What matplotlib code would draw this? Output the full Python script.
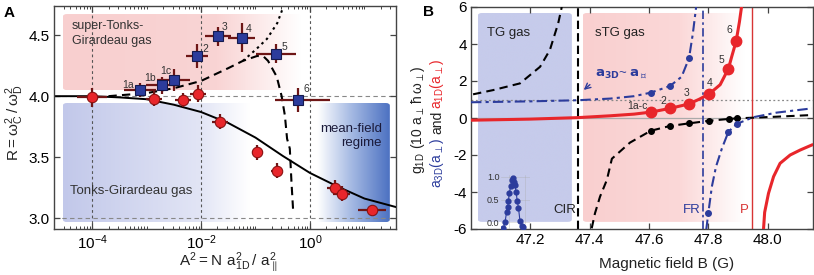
import numpy as np
import matplotlib
matplotlib.use('Agg')
import matplotlib.pyplot as plt
from matplotlib.colors import LinearSegmentedColormap
from matplotlib.patches import FancyBboxPatch
from matplotlib.ticker import FixedLocator, LogLocator, NullFormatter, FixedFormatter

plt.rcParams['font.family'] = ['Liberation Sans', 'DejaVu Sans']
plt.rcParams['mathtext.default'] = 'regular'
plt.rcParams['mathtext.fontset'] = 'dejavusans'
plt.rcParams['axes.unicode_minus'] = False

# ---------------- Panel A data ----------------
tg_logA2 = [-4.0, -2.86, -2.33, -2.05, -1.65, -0.97, -0.61, 0.46, 0.58, 1.14]
tg_R = [3.99, 3.98, 3.97, 4.02, 3.79, 3.54, 3.39, 3.25, 3.20, 3.07]
tg_xerr_dec = [0.27, 0.15, 0.15, 0.15, 0.15, 0.10, 0.10, 0.15, 0.15, 0.25]
tg_Rerr = [0.08, 0.06, 0.06, 0.07, 0.06, 0.06, 0.06, 0.06, 0.06, 0.04]

stg_labels = ['1a', '1b', '1c', '2', '3', '4', '5', '6']
stg_logA2 = [-3.12, -2.71, -2.50, -2.07, -1.69, -1.25, -0.62, -0.22]
stg_R = [4.05, 4.09, 4.13, 4.33, 4.49, 4.48, 4.35, 3.97]
stg_xerr_lo = [0.29, 0.30, 0.30, 0.20, 0.24, 0.25, 0.37, 0.42]
stg_xerr_hi = [0.29, 0.30, 0.30, 0.20, 0.24, 0.25, 0.37, 0.59]
stg_Rerr = [0.06, 0.07, 0.09, 0.10, 0.08, 0.12, 0.08, 0.10]

th_tg_log = [-4.7, -4.0, -3.5, -3.0, -2.5, -2.0, -1.5, -1.0, -0.5, 0.0, 0.5, 1.0, 1.58]
th_tg_R = [4.00, 4.00, 3.99, 3.975, 3.93, 3.87, 3.78, 3.66, 3.51, 3.37, 3.26, 3.16, 3.09]

th_stg_log = [-3.7, -3.0, -2.5, -2.0, -1.5, -1.23, -0.97, -0.85, -0.77, -0.61, -0.52,
              -0.46, -0.42, -0.37, -0.34, -0.31]
th_stg_R = [4.00, 4.025, 4.065, 4.125, 4.23, 4.29, 4.33, 4.325, 4.29, 4.16, 4.00,
            3.84, 3.65, 3.57, 3.30, 3.07]

th_dot_log = [-1.23, -1.0, -0.79, -0.6, -0.5]
th_dot_R = [4.29, 4.38, 4.47, 4.60, 4.72]

a_xticks = [1e-4, 1e-2, 1e0]
a_xticklabels = ['$10^{-4}$', '$10^{-2}$', '$10^{0}$']
a_yticks = [3.0, 3.5, 4.0, 4.5]

# ---------------- Panel B data ----------------
a1d_B1 = [47.0, 47.2, 47.36, 47.47, 47.55, 47.607, 47.671, 47.735, 47.77, 47.803,
          47.84, 47.868, 47.879, 47.894, 47.905, 47.912]
a1d_v1 = [-0.12, -0.06, 0.02, 0.12, 0.21, 0.32, 0.52, 0.76, 1.02, 1.30,
          1.80, 2.67, 3.32, 4.16, 5.2, 6.0]
a1d_B2 = [47.986, 47.99, 48.003, 48.02, 48.042, 48.076, 48.11, 48.149]
a1d_v2 = [-6.05, -5.1, -4.07, -3.17, -2.45, -2.0, -1.73, -1.46]

meas_B = [47.607, 47.671, 47.735, 47.803, 47.868, 47.894]
meas_a1d = [0.32, 0.52, 0.76, 1.30, 2.67, 4.16]
meas_labels = ['1a-c', '2', '3', '4', '5', '6']
meas_B_g = [47.606, 47.671, 47.735, 47.803, 47.87, 47.896]
meas_g1d = [-0.69, -0.43, -0.29, -0.15, -0.05, -0.02]

g1d_B1 = [47.007, 47.075, 47.165, 47.233, 47.266, 47.294, 47.306]
g1d_v1 = [1.28, 1.51, 1.87, 2.77, 3.68, 5.12, 6.0]
g1d_B2 = [47.407, 47.418, 47.435, 47.458, 47.475, 47.536, 47.606, 47.671, 47.735,
          47.803, 47.87, 47.896, 48.03, 48.149]
g1d_v2 = [-5.96, -5.15, -4.25, -3.35, -2.2, -1.33, -0.69, -0.43, -0.29,
          -0.15, -0.05, -0.02, 0.07, 0.16]

a3d_B1 = [47.0, 47.2, 47.36, 47.47, 47.55, 47.606, 47.671, 47.71, 47.735, 47.748, 47.759]
a3d_v1 = [0.85, 0.90, 0.96, 1.05, 1.18, 1.37, 1.73, 2.23, 3.23, 4.57, 6.0]
a3d_B2 = [47.793, 47.80, 47.812, 47.826, 47.846, 47.868, 47.896, 47.951, 48.03, 48.149]
a3d_v2 = [-6.05, -5.15, -3.71, -2.63, -1.64, -0.74, -0.32, 0.04, 0.29, 0.52]
a3d_dot_B = [47.606, 47.671, 47.735, 47.80, 47.868, 47.896]
a3d_dot_v = [1.37, 1.73, 3.23, -5.15, -0.74, -0.32]

B_CIR = 47.36
B_FR = 47.783
B_P = 47.947

inset_B = [47.109, 47.115, 47.120, 47.124, 47.126, 47.129, 47.134, 47.137, 47.143,
           47.145, 47.148, 47.152, 47.156, 47.160, 47.165, 47.171, 47.176]
inset_v = [-0.14, 0.01, 0.23, 0.34, 0.46, 0.65, 0.79, 0.93, 0.97,
           0.90, 0.82, 0.67, 0.46, 0.32, 0.03, -0.08, -0.12]

b_xticks = [47.2, 47.4, 47.6, 47.8, 48.0]
b_yticks = [-6, -4, -2, 0, 2, 4, 6]

# ---------------- colours ----------------
RED = '#e8262b'
RED_EDGE = '#8a1212'
ERR = '#6e1616'
BLUE = '#2c3c9c'
BLUE_EDGE = '#141a4e'
PINK = '#f8cfcf'
SPINE = '#444444'

W, H = 814, 275
fig = plt.figure(figsize=(W / 100, H / 100), dpi=100)


def px_axes(l, t, r, b):
    return fig.add_axes([l / W, (H - b) / H, (r - l) / W, (b - t) / H])


def grad_box(ax, x0, x1, y0, y1, stops, colors, r=0.012):
    cmap = LinearSegmentedColormap.from_list('g', list(zip(stops, colors)))
    grad = np.linspace(0, 1, 512).reshape(1, -1)
    im = ax.imshow(grad, cmap=cmap, extent=(x0, x1, y0, y1), transform=ax.transAxes,
                   aspect='auto', interpolation='bilinear', zorder=0)
    p = FancyBboxPatch((x0, y0), x1 - x0, y1 - y0,
                       boxstyle=f'round,pad=0,rounding_size={r}',
                       transform=ax.transAxes, facecolor='none', edgecolor='none')
    ax.add_patch(p)
    im.set_clip_path(p)


def style_axes(ax):
    for s in ax.spines.values():
        s.set_color(SPINE)
        s.set_linewidth(1.0)
    ax.tick_params(which='both', direction='in', top=True, right=True, color=SPINE,
                   labelsize=11, pad=3)
    ax.tick_params(which='major', length=4, width=0.9)
    ax.tick_params(which='minor', length=2, width=0.7)


# ================= Panel A =================
axA = px_axes(54, 6, 396, 229)
axA.set_xscale('log')
axA.set_xlim(10 ** -4.70, 10 ** 1.58)
axA.set_ylim(2.91, 4.74)
axA.set_autoscale_on(False)
style_axes(axA)

grad_box(axA, 0.026, 0.72, 0.623, 0.964, [0, 0.65, 1.0], [PINK, '#f9d4d4', '#ffffff'])
grad_box(axA, 0.026, 0.982, 0.031, 0.565, [0, 0.42, 0.57, 0.78, 0.88, 1.0],
         ['#c2c8ea', '#e2e5f5', '#ffffff', '#ffffff', '#a8bce4', '#4d72c2'])

for v in a_xticks:
    axA.axvline(v, color='#555555', lw=0.8, ls=(0, (2.5, 2.5)), zorder=1)
for h in (3.0, 4.0):
    axA.axhline(h, color='#888888', lw=0.8, ls=(0, (4, 3)), zorder=1)

axA.plot(10 ** np.array(th_tg_log), th_tg_R, color='k', lw=1.4, zorder=2)
axA.plot(10 ** np.array(th_stg_log), th_stg_R, color='k', lw=1.5, ls=(0, (4, 2.5)), zorder=2)
axA.plot(10 ** np.array(th_dot_log), th_dot_R, color='k', lw=1.5, ls=(0, (1.2, 1.8)), zorder=2)

tx = 10 ** np.array(tg_logA2)
tdec = np.array(tg_xerr_dec)
axA.errorbar(tx, tg_R, xerr=[tx - tx * 10 ** -tdec, tx * 10 ** tdec - tx], yerr=tg_Rerr,
             fmt='none', ecolor=ERR, elinewidth=1.6, capsize=0, zorder=3)
axA.plot(tx, tg_R, 'o', ms=7.5, mfc=RED, mec=RED_EDGE, mew=0.8, zorder=4)

sx = 10 ** np.array(stg_logA2)
lo = np.array(stg_xerr_lo)
hi = np.array(stg_xerr_hi)
axA.errorbar(sx, stg_R, xerr=[sx - sx * 10 ** -lo, sx * 10 ** hi - sx], yerr=stg_Rerr,
             fmt='none', ecolor=ERR, elinewidth=1.6, capsize=0, zorder=3)
axA.plot(sx, stg_R, 's', ms=6.5, mfc=BLUE, mec=BLUE_EDGE, mew=0.8, zorder=4)

lab_off = [(-9, 4), (-9, 5), (-6, 6.5), (6, 5), (5, 6.5), (5, 6), (6, 5), (6, 8)]
for lab, x, y, off in zip(stg_labels, sx, stg_R, lab_off):
    axA.annotate(lab, (x, y), xytext=off, textcoords='offset points', fontsize=7.5,
                 ha='center', va='center', color='#333333', zorder=5)

axA.text(0.053, 0.935, 'super-Tonks-\nGirardeau gas', transform=axA.transAxes,
         fontsize=9, va='top', ha='left', color='#333333', linespacing=1.25)
axA.text(0.047, 0.170, 'Tonks-Girardeau gas', transform=axA.transAxes,
         fontsize=9.5, va='center', ha='left', color='#333333')
axA.text(0.959, 0.417, 'mean-field\nregime', transform=axA.transAxes,
         fontsize=9.5, va='center', ha='right', multialignment='right', color='#1a1a3a',
         linespacing=1.2)

axA.xaxis.set_major_locator(FixedLocator(a_xticks))
axA.xaxis.set_major_formatter(FixedFormatter(a_xticklabels))
axA.xaxis.set_minor_locator(LogLocator(base=10, subs=np.arange(1, 10), numticks=30))
axA.xaxis.set_minor_formatter(NullFormatter())
axA.set_yticks(a_yticks)
axA.set_yticklabels([f'{v:.1f}' for v in a_yticks])

fig.text(9 / W, 1 - 13 / H, 'A', fontsize=11, fontweight='bold', ha='center', va='center')
fig.text(15 / W, 1 - 123 / H, r'$R = \omega_C^2\,/\,\omega_D^2$', rotation=90,
         fontsize=11, ha='center', va='center', color='#222222')
fig.text(228 / W, 1 - 263 / H, r'$A^2 = N\ a_{1D}^2\,/\ a_{\parallel}^2$',
         fontsize=11, ha='center', va='center', color='#222222')

# ================= Panel B =================
axB = px_axes(471, 7, 813, 229)
axB.set_xlim(47.0, 48.153)
axB.set_ylim(-6, 6)
axB.set_autoscale_on(False)
style_axes(axB)

grad_box(axB, 0.020, 0.295, 0.032, 0.973, [0, 1], ['#c6cbeb', '#c6cbeb'])
grad_box(axB, 0.327, 0.80, 0.032, 0.973, [0, 0.6, 1.0], ['#f9cfcf', '#fbd8d8', '#ffffff'])

axB.axhline(0, color='#aaaaaa', lw=0.9, zorder=1)
axB.axhline(1, color='#888888', lw=0.9, ls=(0, (1.5, 2)), zorder=1)
axB.axvline(B_CIR, color='k', lw=1.5, ls=(0, (4, 2)), zorder=2)
axB.axvline(B_FR, color=BLUE, lw=1.2, ls=(0, (5, 2, 1.5, 2)), zorder=2)
axB.axvline(B_P, color='#d83434', lw=1.0, zorder=2)

axB.plot(g1d_B1, g1d_v1, color='k', lw=1.5, ls=(0, (4, 2.5)), zorder=3)
axB.plot(g1d_B2, g1d_v2, color='k', lw=1.5, ls=(0, (4, 2.5)), zorder=3)
axB.plot(meas_B_g, meas_g1d, 'o', color='k', ms=4, zorder=4)

axB.plot(a3d_B1, a3d_v1, color=BLUE, lw=1.5, ls=(0, (5, 2, 1.5, 2)), zorder=3)
axB.plot(a3d_B2, a3d_v2, color=BLUE, lw=1.5, ls=(0, (5, 2, 1.5, 2)), zorder=3)
axB.plot(a3d_dot_B, a3d_dot_v, 'o', color=BLUE, ms=4, zorder=4)

axB.plot(a1d_B1, a1d_v1, color=RED, lw=2.2, zorder=3)
axB.plot(a1d_B2, a1d_v2, color=RED, lw=2.2, zorder=3)
axB.plot(meas_B, meas_a1d, 'o', ms=7.5, mfc=RED, mec=RED, zorder=5)

b_off = [(-10, 4.5), (-5, 5), (-2, 8), (0, 8), (-5, 6.5), (-5, 8)]
for lab, x, y, off in zip(meas_labels, meas_B, meas_a1d, b_off):
    axB.annotate(lab, (x, y), xytext=off, textcoords='offset points', fontsize=7.5,
                 ha='center', va='center', color='#333333', zorder=6)

axB.text(0.047, 0.883, 'TG gas', transform=axB.transAxes, fontsize=9.5,
         ha='left', va='center', color='#222222')
axB.text(0.363, 0.883, 'sTG gas', transform=axB.transAxes, fontsize=9.5,
         ha='left', va='center', color='#222222')
axB.text(B_CIR - 0.006, -4.95, 'CIR', fontsize=9.5, ha='right', va='center', color='#222222')
axB.text(B_FR - 0.008, -4.95, 'FR', fontsize=9.5, ha='right', va='center', color=BLUE)
axB.text(B_P - 0.012, -4.95, 'P', fontsize=9.5, ha='right', va='center', color='#d83434')
axB.text(47.418, 2.43, r'$\mathbf{a_{3D}}$~ $\mathbf{a_{\perp}}$', fontsize=9.5,
         ha='left', va='center', color=BLUE, zorder=6)
axB.annotate('', xy=(47.373, 1.42), xytext=(47.408, 1.9),
             arrowprops=dict(arrowstyle='->', color=BLUE, lw=1.0), zorder=6)

axB.set_xticks(b_xticks)
axB.set_xticklabels([f'{v:.1f}' for v in b_xticks])
axB.set_yticks(b_yticks)
axB.set_yticklabels([str(v) for v in b_yticks])

fig.text(428 / W, 1 - 12 / H, 'B', fontsize=11, fontweight='bold', ha='center', va='center')
fig.text(667 / W, 1 - 264 / H, 'Magnetic field B (G)', fontsize=11,
         ha='center', va='center', color='#222222')
fig.text(418 / W, 1 - 120 / H, r'$g_{1D}\ (10\ a_{\perp}\,\hbar\,\omega_{\perp})$',
         rotation=90, fontsize=10, ha='center', va='center', color='#222222')
fig.text(437 / W, 1 - 163 / H, r'$a_{3D}(a_{\perp})$', rotation=90, fontsize=10,
         ha='center', va='center', color=BLUE)
fig.text(437 / W, 1 - 122 / H, 'and', rotation=90, fontsize=10,
         ha='center', va='center', color='#222222')
fig.text(437 / W, 1 - 84 / H, r'$a_{1D}(a_{\perp})$', rotation=90, fontsize=10,
         ha='center', va='center', color=RED)

# inset
axI = px_axes(501, 174.75, 530, 228.75)
axI.set_xlim(47.101, 47.199)
axI.set_ylim(-0.15, 1.05)
axI.patch.set_alpha(0)
for s in axI.spines.values():
    s.set_visible(False)
axI.set_xticks([47.128, 47.182])
axI.set_xticklabels([])
axI.set_yticks([0.0, 0.5, 1.0])
axI.set_yticklabels(['0.0', '0.5', '1.0'])
axI.tick_params(length=0, labelsize=6.5, pad=1, labelcolor='#333333')
axI.grid(True, color='#aaaaaa', lw=0.4, alpha=0.6)
axI.plot(inset_B, inset_v, '-o', color=BLUE, ms=3.5, lw=0.8, zorder=3)

fig.savefig('out.png', dpi=100)
